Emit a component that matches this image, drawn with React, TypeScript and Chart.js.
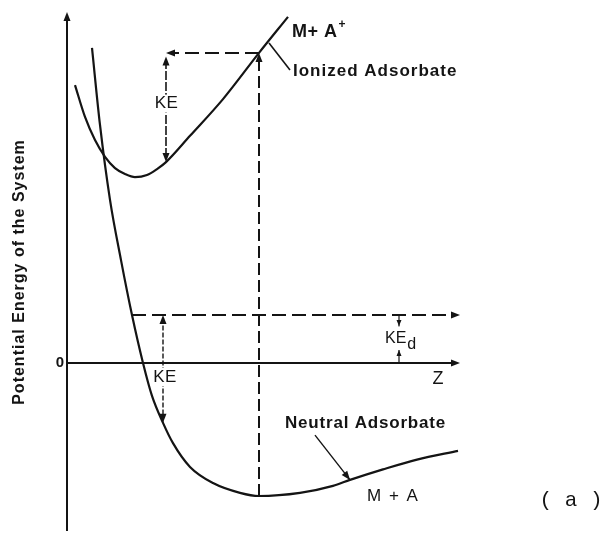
import { useEffect, useRef } from "react";
import { Chart, registerables } from "chart.js";

Chart.register(...registerables);

// Ionized adsorbate potential curve (M + A+): distance Z vs. energy
const ionizedZ = [0.2, 0.45, 0.7, 0.95, 1.2, 1.45, 1.7, 2.0, 2.25, 2.475, 3.075, 3.9, 4.8, 5.525];
const ionizedE = [7.94, 7.03, 6.37, 5.89, 5.57, 5.4, 5.31, 5.37, 5.54, 5.74, 6.49, 7.54, 8.86, 9.89];

// Neutral adsorbate potential curve (M + A)
const neutralZ = [0.625, 0.825, 1.075, 1.35, 1.625, 1.9, 2.125, 2.4, 2.65, 3.075, 3.65, 4.325, 4.8, 5.825, 6.65, 7.075, 7.9, 8.75, 9.775];
const neutralE = [9.0, 6.8, 4.66, 2.94, 1.37, 0, -0.94, -1.71, -2.29, -2.97, -3.43, -3.71, -3.8, -3.71, -3.51, -3.34, -3.04, -2.76, -2.51];

// Characteristic levels of the excitation / desorption scheme
const zTransition = 4.8; // equilibrium distance, vertical (Franck-Condon) transition
const eIonizedAtTransition = 8.86;
const eNeutralMin = -3.8;
const zKEIon = 2.475; // kinetic energy gained on the ionized curve
const eKEIonFoot = 5.74;
const eDesorbed = 1.37; // energy level of the desorbing particle
const zDesorbedStart = 1.625;
const zKENeutral = 2.4; // kinetic energy on the neutral curve after neutralization
const eKENeutralFoot = -1.71;
const zKEd = 8.3; // residual kinetic energy KEd
const eKEdTop = 1.06;
const eKEdBottom = 0.37;
const zAxisEnd = 9.825;
const eAxisTop = 10.03;
const eAxisBottom = -4.8;

// Leader lines from the curve names to their curves
const ionLeaderZ = [5.05, 5.575];
const ionLeaderE = [9.14, 8.37];
const neuLeaderZ = [6.2, 7.075];
const neuLeaderE = [-2.06, -3.34];

const INK = "#141414";

const pts = (zs: number[], es: number[]) => zs.map((z, i) => ({ x: z, y: es[i] }));

function seg(data: { x: number; y: number }[], width: number, dash: number[] = [], curve = false) {
  return {
    data,
    showLine: true,
    borderColor: INK,
    borderWidth: width,
    borderDash: dash,
    borderCapStyle: "butt" as const,
    borderJoinStyle: "round" as const,
    pointRadius: 0,
    pointHoverRadius: 0,
    fill: false,
    tension: curve ? 0.4 : 0,
    cubicInterpolationMode: curve ? ("monotone" as const) : ("default" as const),
  };
}

type Arrow = { from: [number, number]; to: [number, number]; len?: number; half?: number };

const arrows: Arrow[] = [
  { from: [0, 9], to: [0, eAxisTop] },
  { from: [9, 0], to: [zAxisEnd, 0] },
  { from: [zTransition, 7], to: [zTransition, eIonizedAtTransition] },
  { from: [zTransition, eIonizedAtTransition], to: [zKEIon, eIonizedAtTransition] },
  { from: [zKEIon, 7], to: [zKEIon, eIonizedAtTransition - 0.1] },
  { from: [zKEIon, 7], to: [zKEIon, eKEIonFoot] },
  { from: [9, eDesorbed], to: [zAxisEnd, eDesorbed] },
  { from: [zKENeutral, 0], to: [zKENeutral, eDesorbed] },
  { from: [zKENeutral, 0], to: [zKENeutral, eKENeutralFoot] },
  { from: [zKEd, eDesorbed], to: [zKEd, eKEdTop], len: 6, half: 2.5 },
  { from: [zKEd, 0], to: [zKEd, eKEdBottom], len: 6, half: 2.5 },
  { from: [neuLeaderZ[0], neuLeaderE[0]], to: [neuLeaderZ[1], neuLeaderE[1]] },
];

type Label = {
  text: string;
  z: number;
  e: number;
  font: string;
  align?: CanvasTextAlign;
  spacing?: number;
  knockout?: boolean;
  rotate?: boolean;
  sub?: string;
  sup?: string;
};

const SANS = '"Liberation Sans", Arial, sans-serif';

const labels: Label[] = [
  { text: "Potential Energy of the System", z: -1.175, e: 2.6, font: `bold 16px ${SANS}`, align: "center", spacing: 1, rotate: true },
  { text: "0", z: -0.075, e: 0, font: `bold 15px ${SANS}`, align: "right" },
  { text: "Z", z: 9.275, e: -0.46, font: `18px ${SANS}`, align: "center" },
  { text: "M+ A", z: 5.625, e: 9.46, font: `bold 18px ${SANS}`, align: "left", spacing: 0.5, sup: "+" },
  { text: "Ionized Adsorbate", z: 5.65, e: 8.34, font: `bold 17px ${SANS}`, align: "left", spacing: 1 },
  { text: "KE", z: 2.49, e: 7.41, font: `17px ${SANS}`, align: "center", knockout: true, spacing: 0.5 },
  { text: "KE", z: 2.45, e: -0.4, font: `17px ${SANS}`, align: "center", knockout: true, spacing: 0.5 },
  { text: "KE", z: 7.95, e: 0.69, font: `16px ${SANS}`, align: "left", sub: "d", knockout: true },
  { text: "Neutral Adsorbate", z: 5.45, e: -1.71, font: `bold 17px ${SANS}`, align: "left", spacing: 0.8 },
  { text: "M + A", z: 7.5, e: -3.8, font: `17px ${SANS}`, align: "left", spacing: 1.5 },
  { text: "( a )", z: 12.6, e: -3.94, font: `21px "Liberation Mono", "Courier New", monospace`, align: "center" },
];

const annotations = {
  id: "diagramAnnotations",
  afterDatasetsDraw(chart: Chart) {
    const { ctx } = chart;
    const xs = chart.scales.x;
    const ys = chart.scales.y;
    const px = (z: number) => xs.getPixelForValue(z);
    const py = (e: number) => ys.getPixelForValue(e);

    ctx.save();
    ctx.fillStyle = INK;
    for (const a of arrows) {
      const x0 = px(a.from[0]);
      const y0 = py(a.from[1]);
      const x1 = px(a.to[0]);
      const y1 = py(a.to[1]);
      const ang = Math.atan2(y1 - y0, x1 - x0);
      const len = a.len ?? 9;
      const half = a.half ?? 3.5;
      ctx.beginPath();
      ctx.moveTo(x1, y1);
      ctx.lineTo(x1 - len * Math.cos(ang) + half * Math.sin(ang), y1 - len * Math.sin(ang) - half * Math.cos(ang));
      ctx.lineTo(x1 - len * Math.cos(ang) - half * Math.sin(ang), y1 - len * Math.sin(ang) + half * Math.cos(ang));
      ctx.closePath();
      ctx.fill();
    }

    for (const l of labels) {
      const x = px(l.z);
      const y = py(l.e);
      ctx.save();
      ctx.font = l.font;
      (ctx as any).letterSpacing = `${l.spacing ?? 0}px`;
      ctx.textAlign = l.align ?? "left";
      ctx.textBaseline = "middle";
      ctx.translate(x, y);
      if (l.rotate) ctx.rotate(-Math.PI / 2);
      const w = ctx.measureText(l.text).width;
      if (l.knockout) {
        const left = l.align === "center" ? -w / 2 : l.align === "right" ? -w : 0;
        ctx.fillStyle = "#ffffff";
        ctx.fillRect(left - 2, -9, w + (l.sub ? 12 : 4), 18);
      }
      ctx.fillStyle = INK;
      ctx.fillText(l.text, 0, 0);
      const endX = l.align === "center" ? w / 2 : l.align === "right" ? 0 : w;
      if (l.sup) {
        ctx.font = l.font.replace(/\d+px/, "12px");
        ctx.textAlign = "left";
        ctx.fillText(l.sup, endX + 1, -7);
      }
      if (l.sub) {
        ctx.font = l.font.replace(/\d+px/, "16px");
        ctx.textAlign = "left";
        ctx.fillText(l.sub, endX + 1, 6);
      }
      ctx.restore();
    }
    ctx.restore();
  },
};

export default function App() {
  const canvasRef = useRef<HTMLCanvasElement | null>(null);

  useEffect(() => {
    document.body.style.margin = "0";
    document.body.style.background = "#ffffff";
    const canvas = canvasRef.current;
    if (!canvas) return;

    const chart = new Chart(canvas, {
      type: "scatter",
      data: {
        datasets: [
          seg([{ x: 0, y: eAxisBottom }, { x: 0, y: eAxisTop - 0.1 }], 2),
          seg([{ x: 0, y: 0 }, { x: zAxisEnd - 0.1, y: 0 }], 2),
          seg(pts(ionizedZ, ionizedE), 2.2, [], true),
          seg(pts(neutralZ, neutralE), 2.2, [], true),
          seg([{ x: zTransition, y: eNeutralMin }, { x: zTransition, y: eIonizedAtTransition - 0.1 }], 2, [12, 5]),
          seg([{ x: zTransition, y: eIonizedAtTransition }, { x: zKEIon + 0.1, y: eIonizedAtTransition }], 2, [14, 6]),
          seg([{ x: zKEIon, y: eIonizedAtTransition - 0.2 }, { x: zKEIon, y: eKEIonFoot + 0.1 }], 1.6, [9, 2]),
          seg([{ x: zDesorbedStart, y: eDesorbed }, { x: zAxisEnd - 0.1, y: eDesorbed }], 2, [14, 6]),
          seg([{ x: zKENeutral, y: eDesorbed - 0.1 }, { x: zKENeutral, y: eKENeutralFoot + 0.1 }], 1.4, [5, 2]),
          seg([{ x: zKEd, y: eDesorbed }, { x: zKEd, y: eKEdTop }], 1.2),
          seg([{ x: zKEd, y: 0 }, { x: zKEd, y: eKEdBottom }], 1.2),
          seg(pts(ionLeaderZ, ionLeaderE), 1.6),
          seg(pts(neuLeaderZ, neuLeaderE), 1.4),
        ],
      },
      options: {
        animation: false,
        responsive: false,
        maintainAspectRatio: false,
        devicePixelRatio: 1,
        layout: { padding: 0 },
        plugins: {
          legend: { display: false },
          tooltip: { enabled: false },
          title: { display: false },
        },
        events: [],
        scales: {
          x: { type: "linear", min: -1.675, max: 13.475, display: false },
          y: { type: "linear", min: -4.857, max: 10.371, display: false },
        },
      },
      plugins: [annotations],
    });

    return () => chart.destroy();
  }, []);

  return (
    <div style={{ width: 606, height: 533, background: "#ffffff" }}>
      <canvas ref={canvasRef} width={606} height={533} style={{ display: "block" }} />
    </div>
  );
}
